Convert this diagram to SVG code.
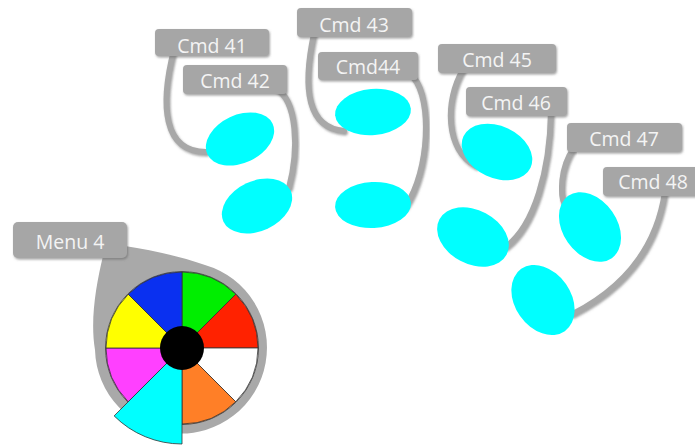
<svg xmlns="http://www.w3.org/2000/svg" width="695" height="448" viewBox="0 0 695 448">
<defs>
<filter id="ds" x="-20%" y="-20%" width="140%" height="140%">
<feDropShadow dx="1" dy="1.5" stdDeviation="0.8" flood-color="#666" flood-opacity="0.6"/>
</filter>
</defs>
<style>
.box{fill:#a6a6a6;filter:url(#ds)}
.lbl{font-family:"Open Sans","Liberation Sans",sans-serif;font-size:19.5px;fill:#f4f4f4;text-anchor:middle}
.cn{fill:none;stroke:#a8a8a8;stroke-width:6;stroke-linecap:round;filter:url(#ds)}
.el{fill:#00ffff}
.sec{stroke:#333;stroke-width:0.8;stroke-linejoin:round}
</style>
<rect width="695" height="448" fill="#fff"/>
<g id="connectors">
<path class="cn" d="M174,50 C160,105 163,152 206,152"/>
<path class="cn" d="M275,88 C298,100 299,150 289,188"/>
<path class="cn" d="M314,34 C302,90 308,128 344,131"/>
<path class="cn" d="M414,78 C432,100 430,170 406,206"/>
<path class="cn" d="M463,70 C445,100 445,150 476,166"/>
<path class="cn" d="M551,112 C550,170 535,225 506,247"/>
<path class="cn" d="M574,148 C560,168 560,195 565,205"/>
<path class="cn" d="M665,192 C655,260 610,295 573,314"/>
</g>
<g id="menu4">
<path d="M103,256 C96,285 90,320 95,350 A86 86 0 1 0 205,265 C180,256 150,250 125,246 Z" fill="#a9a9a9"/>
<rect class="box" x="13" y="222" width="114" height="36" rx="5"/>
<text class="lbl" x="70" y="249">Menu 4</text>
<circle cx="182" cy="348" r="76.5" fill="#fff" stroke="#555" stroke-width="1"/>
<path class="sec" fill="#00ee00" d="M182,348 L182,272 A76 76 0 0 1 235.74,294.26 Z"/>
<path class="sec" fill="#ff2200" d="M182,348 L235.74,294.26 A76 76 0 0 1 258,348 Z"/>
<path class="sec" fill="#ffffff" d="M182,348 L258,348 A76 76 0 0 1 235.74,401.74 Z"/>
<path class="sec" fill="#ff7f27" d="M182,348 L235.74,401.74 A76 76 0 0 1 182,424 Z"/>
<path class="sec" fill="#ff40ff" d="M182,348 L128.26,401.74 A76 76 0 0 1 106,348 Z"/>
<path class="sec" fill="#ffff00" d="M182,348 L106,348 A76 76 0 0 1 128.26,294.26 Z"/>
<path class="sec" fill="#0a30f0" d="M182,348 L128.26,294.26 A76 76 0 0 1 182,272 Z"/>
<path class="sec" fill="#00ffff" stroke="#337" d="M182,348 L182,444 A96 96 0 0 1 114.12,415.88 Z"/>
<circle cx="182" cy="348" r="22" fill="#000"/>
</g>
<g id="cmd41">
<ellipse class="el" cx="240" cy="139" rx="36" ry="24" transform="rotate(-25 240 139)"/>
<rect class="box" x="155" y="29" width="114" height="27" rx="4"/>
<text class="lbl" x="212" y="53">Cmd 41</text>
</g>
<g id="cmd42">
<ellipse class="el" cx="257" cy="206" rx="37" ry="25" transform="rotate(-25 257 206)"/>
<rect class="box" x="183" y="65" width="104" height="29" rx="4"/>
<text class="lbl" x="235" y="88">Cmd 42</text>
</g>
<g id="cmd43">
<ellipse class="el" cx="373" cy="112" rx="38" ry="23" transform="rotate(-5 373 112)"/>
<rect class="box" x="297" y="8" width="115" height="29" rx="4"/>
<text class="lbl" x="354" y="32">Cmd 43</text>
</g>
<g id="cmd44">
<ellipse class="el" cx="373" cy="205" rx="38" ry="23" transform="rotate(-3 373 205)"/>
<rect class="box" x="318" y="52" width="100" height="28" rx="4"/>
<text class="lbl" x="368" y="74">Cmd44</text>
</g>
<g id="cmd45">
<ellipse class="el" cx="497" cy="152" rx="37" ry="26" transform="rotate(25 497 152)"/>
<rect class="box" x="438" y="44" width="118" height="29" rx="4"/>
<text class="lbl" x="497" y="67">Cmd 45</text>
</g>
<g id="cmd46">
<ellipse class="el" cx="473" cy="237" rx="38" ry="27" transform="rotate(28 473 237)"/>
<rect class="box" x="466" y="87" width="101" height="29" rx="4"/>
<text class="lbl" x="516" y="110">Cmd 46</text>
</g>
<g id="cmd47">
<ellipse class="el" cx="590" cy="227" rx="38" ry="27" transform="rotate(55 590 227)"/>
<rect class="box" x="567" y="123" width="115" height="29" rx="4"/>
<text class="lbl" x="624" y="146">Cmd 47</text>
</g>
<g id="cmd48">
<ellipse class="el" cx="543" cy="300" rx="38" ry="28" transform="rotate(55 543 300)"/>
<rect class="box" x="603" y="167" width="100" height="29" rx="4"/>
<text class="lbl" x="653" y="189">Cmd 48</text>
</g>
</svg>
